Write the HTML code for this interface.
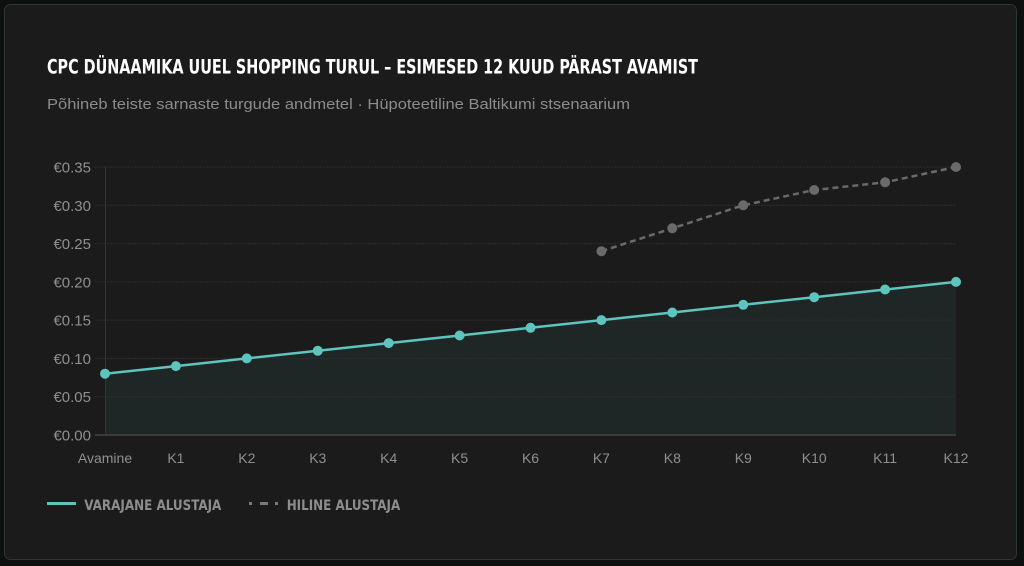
<!DOCTYPE html>
<html><head><meta charset="utf-8"><style>
html,body{margin:0;padding:0;background:#0e0f0f;}
body{width:1024px;height:566px;overflow:hidden;}
svg{display:block;}
</style></head><body>
<svg width="1024" height="566" viewBox="0 0 1024 566" xmlns="http://www.w3.org/2000/svg">
<rect x="0" y="0" width="1024" height="566" fill="#0e0f0f"/>
<rect x="4.5" y="4.5" width="1012" height="555" rx="6" ry="6" fill="#1b1b1b" stroke="#2a3836" stroke-width="1"/>
<text x="47" y="73.5" font-family="'Liberation Sans Narrow','DejaVu Sans Condensed','Liberation Sans',sans-serif" font-weight="bold" font-size="19.5" fill="#ffffff" textLength="651" lengthAdjust="spacingAndGlyphs">CPC DÜNAAMIKA UUEL SHOPPING TURUL – ESIMESED 12 KUUD PÄRAST AVAMIST</text>
<text x="47" y="109" font-family="'Liberation Sans','DejaVu Sans',sans-serif" font-size="15" fill="#8c8c8c" textLength="583" lengthAdjust="spacingAndGlyphs">Põhineb teiste sarnaste turgude andmetel · Hüpoteetiline Baltikumi stsenaarium</text>
<!-- fill -->
<polygon points="105,435 105,373.7 175.9,366.1 246.8,358.4 317.75,350.8 388.7,343.1 459.6,335.5 530.5,327.8 601.4,320.1 672.3,312.5 743.25,304.8 814.2,297.2 885.1,289.5 956,281.9 956,435" fill="#1f2626"/>
<!-- grid -->
<g stroke="#2e2e2e" stroke-width="1" stroke-dasharray="2,1">
<line x1="95" y1="396.7" x2="956" y2="396.7"/>
<line x1="95" y1="358.4" x2="956" y2="358.4"/>
<line x1="95" y1="320.1" x2="956" y2="320.1"/>
<line x1="95" y1="281.9" x2="956" y2="281.9"/>
<line x1="95" y1="243.6" x2="956" y2="243.6"/>
<line x1="95" y1="205.3" x2="956" y2="205.3"/>
<line x1="95" y1="167" x2="956" y2="167"/>
</g>
<line x1="105.5" y1="167" x2="105.5" y2="435" stroke="#343434" stroke-width="1"/>
<line x1="95" y1="435" x2="956" y2="435" stroke="#3a3a3a" stroke-width="2"/>
<!-- y labels -->
<g font-family="'Liberation Sans','DejaVu Sans',sans-serif" font-size="15" fill="#8f8f8f" text-anchor="end">
<text x="91" y="440.5">€0.00</text>
<text x="91" y="402.2">€0.05</text>
<text x="91" y="363.9">€0.10</text>
<text x="91" y="325.6">€0.15</text>
<text x="91" y="287.4">€0.20</text>
<text x="91" y="249.1">€0.25</text>
<text x="91" y="210.8">€0.30</text>
<text x="91" y="172.5">€0.35</text>
</g>
<!-- x labels -->
<g font-family="'Liberation Sans','DejaVu Sans',sans-serif" font-size="14" fill="#8f8f8f" text-anchor="middle">
<text x="105" y="463">Avamine</text>
<text x="175.9" y="463">K1</text>
<text x="246.8" y="463">K2</text>
<text x="317.75" y="463">K3</text>
<text x="388.7" y="463">K4</text>
<text x="459.6" y="463">K5</text>
<text x="530.5" y="463">K6</text>
<text x="601.4" y="463">K7</text>
<text x="672.3" y="463">K8</text>
<text x="743.25" y="463">K9</text>
<text x="814.2" y="463">K10</text>
<text x="885.1" y="463">K11</text>
<text x="956" y="463">K12</text>
</g>
<!-- gray dashed series -->
<polyline points="601.4,251.2 672.3,228.3 743.25,205.3 814.2,190 885.1,182.3 956,167" fill="none" stroke="#6a6a6a" stroke-width="2.5" stroke-dasharray="6,4"/>
<g fill="#6a6a6a">
<circle cx="601.4" cy="251.2" r="5"/><circle cx="672.3" cy="228.3" r="5"/><circle cx="743.25" cy="205.3" r="5"/>
<circle cx="814.2" cy="190" r="5"/><circle cx="885.1" cy="182.3" r="5"/><circle cx="956" cy="167" r="5"/>
</g>
<!-- teal series -->
<polyline points="105,373.7 175.9,366.1 246.8,358.4 317.75,350.8 388.7,343.1 459.6,335.5 530.5,327.8 601.4,320.1 672.3,312.5 743.25,304.8 814.2,297.2 885.1,289.5 956,281.9" fill="none" stroke="#5ec4be" stroke-width="2.5"/>
<g fill="#5ec4be">
<circle cx="105" cy="373.7" r="5"/><circle cx="175.9" cy="366.1" r="5"/><circle cx="246.8" cy="358.4" r="5"/>
<circle cx="317.75" cy="350.8" r="5"/><circle cx="388.7" cy="343.1" r="5"/><circle cx="459.6" cy="335.5" r="5"/>
<circle cx="530.5" cy="327.8" r="5"/><circle cx="601.4" cy="320.1" r="5"/><circle cx="672.3" cy="312.5" r="5"/>
<circle cx="743.25" cy="304.8" r="5"/><circle cx="814.2" cy="297.2" r="5"/><circle cx="885.1" cy="289.5" r="5"/>
<circle cx="956" cy="281.9" r="5"/>
</g>
<!-- legend -->
<rect x="47" y="502" width="29" height="3" fill="#5ec4be"/>
<text x="84.3" y="510" font-family="'Liberation Sans Narrow','DejaVu Sans Condensed','Liberation Sans',sans-serif" font-weight="bold" font-size="14" fill="#8d8d8d" textLength="137" lengthAdjust="spacingAndGlyphs">VARAJANE ALUSTAJA</text>
<rect x="249" y="502" width="3" height="3" fill="#7a7a7a"/>
<rect x="260" y="502" width="8" height="3" fill="#7a7a7a"/>
<rect x="275" y="502" width="3" height="3" fill="#7a7a7a"/>
<text x="286.7" y="510" font-family="'Liberation Sans Narrow','DejaVu Sans Condensed','Liberation Sans',sans-serif" font-weight="bold" font-size="14" fill="#8d8d8d" textLength="113.5" lengthAdjust="spacingAndGlyphs">HILINE ALUSTAJA</text>
</svg>
</body></html>
